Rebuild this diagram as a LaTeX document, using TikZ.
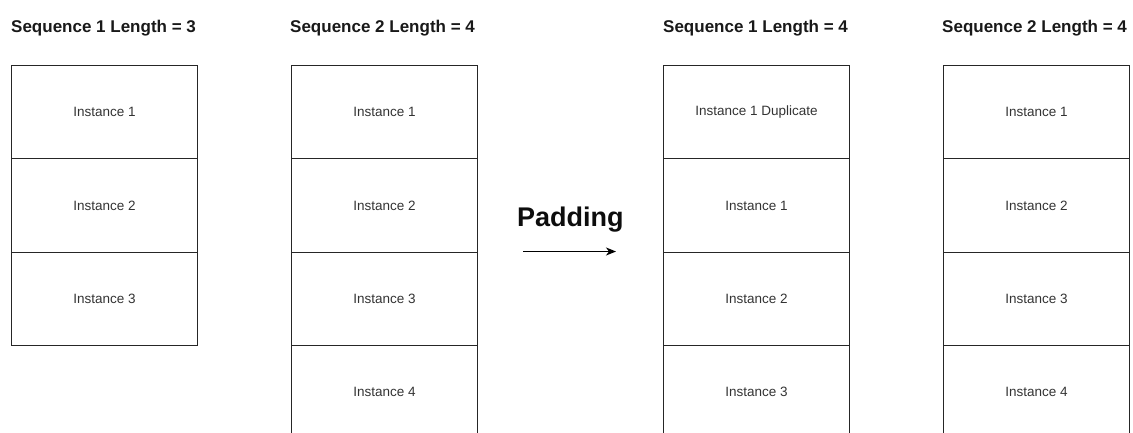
\documentclass[tikz,border=0pt]{standalone}
\usepackage{fontspec}
\setmainfont{Liberation Sans}
\usetikzlibrary{arrows.meta}
\begin{document}
\begin{tikzpicture}[x=1pt,y=-1pt,
  cell/.style={draw=black!85, line width=1pt, minimum width=186pt, minimum height=93.33pt,
    inner sep=0pt, anchor=north west, font=\fontsize{13.5}{16}\selectfont, text=black!80},
  title/.style={font=\bfseries\fontsize{17}{20}\selectfont, anchor=base west, inner sep=0pt, text=black!90},
  padlabel/.style={font=\bfseries\fontsize{27}{30}\selectfont, anchor=base west, inner sep=0pt, text=black!95},
  padarrow/.style={line width=1pt, -{Stealth[length=10pt,width=8pt,inset=3pt]}}]
\useasboundingbox (0,0) rectangle (1133,432);
\clip (0,0) rectangle (1133,432);
% titles
\node[title] (t1) at (11,32) {Sequence 1 Length = 3};
\node[title] (t2) at (290,32) {Sequence 2 Length = 4};
\node[title] (t3) at (663,32) {Sequence 1 Length = 4};
\node[title] (t4) at (942,32) {Sequence 2 Length = 4};
% column 1
\node[cell] (a1) at (11,65) {Instance 1};
\node[cell] (a2) at (11,158.33) {Instance 2};
\node[cell] (a3) at (11,251.67) {Instance 3};
% column 2
\node[cell] (b1) at (291,65) {Instance 1};
\node[cell] (b2) at (291,158.33) {Instance 2};
\node[cell] (b3) at (291,251.67) {Instance 3};
\node[cell] (b4) at (291,345) {Instance 4};
% column 3
\node[cell] (c1) at (663,65) {Instance 1 Duplicate};
\node[cell] (c2) at (663,158.33) {Instance 1};
\node[cell] (c3) at (663,251.67) {Instance 2};
\node[cell] (c4) at (663,345) {Instance 3};
% column 4
\node[cell] (d1) at (943,65) {Instance 1};
\node[cell] (d2) at (943,158.33) {Instance 2};
\node[cell] (d3) at (943,251.67) {Instance 3};
\node[cell] (d4) at (943,345) {Instance 4};
% padding
\node[padlabel] (pad) at (517,226) {Padding};
\coordinate (p1) at (523,251.5);
\coordinate (p2) at (616,251.5);
\draw[padarrow] (p1) -- (p2);
\end{tikzpicture}
\end{document}
